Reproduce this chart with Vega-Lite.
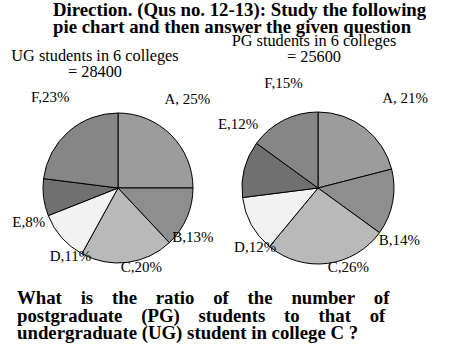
{
  "$schema": "https://vega.github.io/schema/vega-lite/v6.json",
  "background": "white",
  "padding": {"left": 11, "top": 0, "right": 0, "bottom": 0},
  "autosize": {"type": "pad"},
  "config": {
    "view": {"stroke": null},
    "font": "Liberation Serif",
    "title": {"color": "black", "font": "Liberation Serif"},
    "text": {"font": "Liberation Serif"}
  },
  "datasets": {
    "ug": [
      {"college": "A", "share": 25, "label": "A, 25%"},
      {"college": "B", "share": 13, "label": "B,13%"},
      {"college": "C", "share": 20, "label": "C,20%"},
      {"college": "D", "share": 11, "label": "D,11%"},
      {"college": "E", "share": 8, "label": "E,8%"},
      {"college": "F", "share": 23, "label": "F,23%"}
    ],
    "pg": [
      {"college": "A", "share": 21, "label": "A, 21%"},
      {"college": "B", "share": 14, "label": "B,14%"},
      {"college": "C", "share": 26, "label": "C,26%"},
      {"college": "D", "share": 12, "label": "D,12%"},
      {"college": "E", "share": 12, "label": "E,12%"},
      {"college": "F", "share": 15, "label": "F,15%"}
    ]
  },
  "title": {
    "text": ["Direction. (Qus no. 12-13): Study the following", "pie chart and then answer the given question"],
    "anchor": "start",
    "frame": "group",
    "dx": 35,
    "font": "Liberation Serif",
    "fontSize": 18.8,
    "fontWeight": "bold",
    "lineHeight": 17,
    "offset": -3
  },
  "vconcat": [
    {
      "title": {
        "text": [
          "\u00a0What\u00a0\u00a0\u00a0 is\u00a0\u00a0\u00a0 the\u00a0\u00a0\u00a0 ratio\u00a0\u00a0\u00a0 of\u00a0\u00a0\u00a0 the\u00a0\u00a0\u00a0 number\u00a0\u00a0\u00a0 of",
          "postgraduate\u00a0\u00a0\u00a0 (PG)\u00a0\u00a0\u00a0 students\u00a0\u00a0\u00a0 to\u00a0\u00a0\u00a0 that\u00a0\u00a0\u00a0 of",
          "undergraduate (UG) student in college C ?"
        ],
        "orient": "bottom",
        "anchor": "start",
        "frame": "group",
        "dx": -1,
        "font": "Liberation Serif",
        "fontSize": 18.8,
        "fontWeight": "bold",
        "lineHeight": 17.5,
        "offset": 5
      },
      "spacing": 0,
      "bounds": "flush",
      "hconcat": [
        {
          "width": 200,
          "height": 192,
          "title": {
            "text": ["\u00a0\u00a0\u00a0\u00a0\u00a0\u00a0\u00a0\u00a0UG students in 6 colleges", "= 28400"],
            "font": "Liberation Serif",
            "fontSize": 16.3,
            "fontWeight": "normal",
            "lineHeight": 16,
            "anchor": "middle",
            "frame": "group",
            "dx": -23,
            "offset": 10
          },
          "data": {"name": "ug"},
          "encoding": {
            "theta": {"field": "share", "type": "quantitative", "stack": true},
            "order": {"field": "college", "type": "ordinal", "sort": "ascending"}
          },
          "layer": [
            {
              "mark": {"type": "arc", "outerRadius": 75, "stroke": "black", "strokeWidth": 1},
              "encoding": {
                "color": {
                  "field": "college",
                  "type": "nominal",
                  "legend": null,
                  "scale": {"domain": ["A", "B", "C", "D", "E", "F"], "range": ["#9c9c9c", "#8e8e8e", "#b9b9b9", "#f2f2f2", "#707070", "#868686"]}
                }
              }
            },
            {
              "mark": {
                "type": "text",
                "radius": 98,
                "font": "Liberation Serif",
                "fontSize": 15,
                "color": "black",
                "dx": {"expr": "datum.college == 'A' ? 0 : datum.college == 'B' ? -15 : datum.college == 'C' ? 11 : datum.college == 'D' ? 26 : datum.college == 'E' ? 8 : -3"},
                "dy": {"expr": "datum.college == 'A' ? -20 : datum.college == 'B' ? 10 : datum.college == 'C' ? -18 : datum.college == 'D' ? 3 : datum.college == 'E' ? 22 : -17"}
              },
              "encoding": {"text": {"field": "label", "type": "nominal"}}
            }
          ]
        },
        {
          "width": 200,
          "height": 192,
          "title": {
            "text": ["PG students in 6 colleges", "\u00a0\u00a0= 25600"],
            "font": "Liberation Serif",
            "fontSize": 16.3,
            "fontWeight": "normal",
            "lineHeight": 16,
            "anchor": "middle",
            "frame": "group",
            "dx": -4,
            "offset": 10
          },
          "data": {"name": "pg"},
          "encoding": {
            "theta": {"field": "share", "type": "quantitative", "stack": true},
            "order": {"field": "college", "type": "ordinal", "sort": "ascending"}
          },
          "layer": [
            {
              "mark": {"type": "arc", "outerRadius": 76, "stroke": "black", "strokeWidth": 1},
              "encoding": {
                "color": {
                  "field": "college",
                  "type": "nominal",
                  "legend": null,
                  "scale": {"domain": ["A", "B", "C", "D", "E", "F"], "range": ["#9c9c9c", "#8e8e8e", "#b9b9b9", "#f2f2f2", "#707070", "#868686"]}
                }
              }
            },
            {
              "mark": {
                "type": "text",
                "radius": 98,
                "font": "Liberation Serif",
                "fontSize": 15,
                "color": "black",
                "dx": {"expr": "datum.college == 'A' ? 27 : datum.college == 'B' ? -15 : datum.college == 'C' ? 18 : datum.college == 'D' ? 23 : datum.college == 'E' ? 15 : 10"},
                "dy": {"expr": "datum.college == 'A' ? -13 : datum.college == 'B' ? 34 : datum.college == 'C' ? -18 : datum.college == 'D' ? 12 : datum.college == 'E' ? -40 : -18"}
              },
              "encoding": {"text": {"field": "label", "type": "nominal"}}
            }
          ]
        }
      ]
    }
  ]
}
